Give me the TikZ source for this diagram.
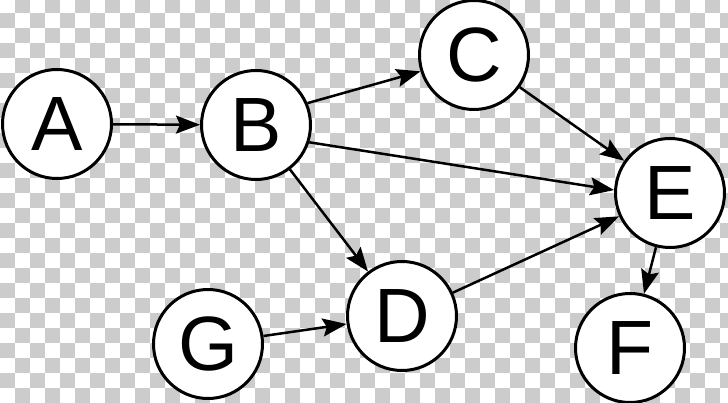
\documentclass[tikz,border=0pt]{standalone}
\usepackage{fontspec}
\setmainfont{Liberation Sans}
\usetikzlibrary{arrows.meta}
\definecolor{checkgrey}{HTML}{CCCCCC}

\begin{document}
\begin{tikzpicture}[x=1pt, y=-1pt,
  vertex/.style={circle, draw, line width=3pt, fill=white, minimum size=109pt, inner sep=0pt, font=\fontsize{77}{80}\selectfont},
  link/.style={-{Stealth[length=24pt, width=18pt, inset=4pt]}, line width=2.5pt}]
\useasboundingbox (0,0) rectangle (728,403);
\clip (0,0) rectangle (728,403);
\fill[white] (0,0) rectangle (728,403);
\foreach \i in {0,...,48}
  \foreach \j in {0,...,27}{
    \pgfmathtruncatemacro\chk{mod(\i+\j,2)}
    \ifnum\chk=1 \fill[checkgrey] (15*\i,15*\j-2) rectangle ++(15,15); \fi
  }
\node[vertex] (A) at (57,124) {A};
\node[vertex] (B) at (256,125) {B};
\node[vertex] (C) at (474,55) {C};
\node[vertex] (D) at (402,316) {D};
\node[vertex] (E) at (670,193) {E};
\node[vertex] (F) at (630,348) {F};
\node[vertex] (G) at (208,344) {G};
\draw[link] (A) -- (B);
\draw[link] (B.23) -- (C.197);
\draw[link] (B.-18) -- (E.177);
\draw[link] (B) -- (D);
\draw[link] (C) -- (E);
\draw[link] (G) -- (D);
\draw[link] (D) -- (E);
\draw[link] (E) -- (F);
\end{tikzpicture}
\end{document}
